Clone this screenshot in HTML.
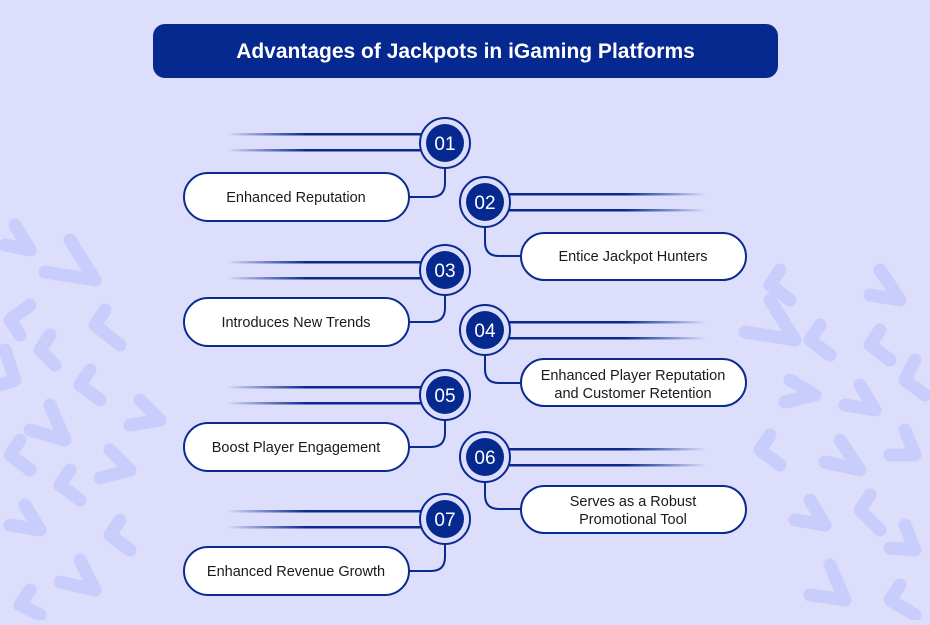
<!DOCTYPE html>
<html><head><meta charset="utf-8"><style>
html,body{margin:0;padding:0}
body{width:930px;height:620px;overflow:hidden;background:#dcdefc;font-family:"Liberation Sans",sans-serif}
</style></head><body>
<svg width="930" height="620" viewBox="0 0 930 620" xmlns="http://www.w3.org/2000/svg">
<defs>
<linearGradient id="gl" x1="0" x2="1" y1="0" y2="0"><stop offset="0" stop-color="#0a2a8f" stop-opacity="0"/><stop offset="0.4" stop-color="#0a2a8f" stop-opacity="1"/></linearGradient>
<linearGradient id="gr" x1="1" x2="0" y1="0" y2="0"><stop offset="0" stop-color="#0a2a8f" stop-opacity="0"/><stop offset="0.4" stop-color="#0a2a8f" stop-opacity="1"/></linearGradient>
</defs>
<rect width="930" height="620" fill="#dcdefc"/>
<g fill="none" stroke="#c8cdfb" stroke-linecap="round" stroke-linejoin="round">
<g stroke-width="13">
<polyline points="15,225 30,250 5,245"/>
<polyline points="70,240 95,280 45,272"/>
<polyline points="30,305 10,320 20,335"/>
<polyline points="105,310 95,325 120,345"/>
<polyline points="50,335 40,350 55,365"/>
<polyline points="5,350 15,380 0,385"/>
<polyline points="50,405 65,440 30,430"/>
<polyline points="90,370 80,385 100,400"/>
<polyline points="140,400 160,420 130,425"/>
<polyline points="20,440 10,455 30,470"/>
<polyline points="110,450 130,470 100,478"/>
<polyline points="70,470 60,485 80,500"/>
<polyline points="25,505 40,530 10,525"/>
<polyline points="120,520 110,535 130,550"/>
<polyline points="80,560 95,590 60,582"/>
<polyline points="30,590 20,605 40,615"/>
<polyline points="770,300 795,340 745,332"/>
<polyline points="820,325 810,340 830,355"/>
<polyline points="880,330 870,345 890,360"/>
<polyline points="790,380 815,395 785,402"/>
<polyline points="860,385 875,410 845,405"/>
<polyline points="915,360 905,380 925,395"/>
<polyline points="770,435 760,450 780,465"/>
<polyline points="840,440 860,470 825,462"/>
<polyline points="905,430 915,455 890,455"/>
<polyline points="810,500 825,525 795,520"/>
<polyline points="870,495 860,510 880,530"/>
<polyline points="905,525 915,550 890,548"/>
<polyline points="830,565 845,600 810,595"/>
<polyline points="900,585 890,600 915,615"/>
<polyline points="880,270 900,300 870,295"/>
<polyline points="780,270 770,285 790,300"/>
</g>
</g>
<rect x="153" y="24" width="625" height="54" rx="12" fill="#06298f"/>
<text x="465.5" y="58" text-anchor="middle" fill="#fff" font-size="21" font-weight="bold">Advantages of Jackpots in iGaming Platforms</text>

<g fill="url(#gl)">
<rect x="226" y="133" width="200" height="2.5"/><rect x="226" y="149" width="200" height="2.5"/>
<rect x="226" y="261" width="200" height="2.5"/><rect x="226" y="277" width="200" height="2.5"/>
<rect x="226" y="386" width="200" height="2.5"/><rect x="226" y="402" width="200" height="2.5"/>
<rect x="226" y="510" width="200" height="2.5"/><rect x="226" y="526" width="200" height="2.5"/>
</g>
<g fill="url(#gr)">
<rect x="504" y="193" width="202" height="2.5"/><rect x="504" y="209" width="202" height="2.5"/>
<rect x="504" y="321" width="202" height="2.5"/><rect x="504" y="337" width="202" height="2.5"/>
<rect x="504" y="448" width="202" height="2.5"/><rect x="504" y="464" width="202" height="2.5"/>
</g>
<g stroke-width="2" fill="none" stroke="#0a2a8f">
<path d="M445 168 V183 Q445 197 431 197 H409"/>
<path d="M445 295 V308 Q445 322 431 322 H409"/>
<path d="M445 420 V433 Q445 447 431 447 H409"/>
<path d="M445 544 V557 Q445 571 431 571 H409"/>
<path d="M485 227 V242 Q485 256 499 256 H521"/>
<path d="M485 355 V369 Q485 383 499 383 H521"/>
<path d="M485 482 V495 Q485 509 499 509 H521"/>
</g>

<g stroke="#0a2a8f" stroke-width="2" fill="#fff">
<rect x="184" y="173" width="225" height="48" rx="24"/>
<rect x="184" y="298" width="225" height="48" rx="24"/>
<rect x="184" y="423" width="225" height="48" rx="24"/>
<rect x="184" y="547" width="225" height="48" rx="24"/>
<rect x="521" y="233" width="225" height="47" rx="23.5"/>
<rect x="521" y="359" width="225" height="47" rx="23.5"/>
<rect x="521" y="486" width="225" height="47" rx="23.5"/>
</g>

<g>
<g stroke="#0a2a8f" stroke-width="2" fill="#dcdefc">
<circle cx="445" cy="143" r="25"/><circle cx="445" cy="270" r="25"/><circle cx="445" cy="395" r="25"/><circle cx="445" cy="519" r="25"/>
<circle cx="485" cy="202" r="25"/><circle cx="485" cy="330" r="25"/><circle cx="485" cy="457" r="25"/>
</g>
<g fill="#06298f">
<circle cx="445" cy="143" r="19"/><circle cx="445" cy="270" r="19"/><circle cx="445" cy="395" r="19"/><circle cx="445" cy="519" r="19"/>
<circle cx="485" cy="202" r="19"/><circle cx="485" cy="330" r="19"/><circle cx="485" cy="457" r="19"/>
</g>
<g fill="#fff" font-size="19" text-anchor="middle">
<text x="445" y="150">01</text><text x="485" y="209">02</text><text x="445" y="277">03</text><text x="485" y="337">04</text>
<text x="445" y="402">05</text><text x="485" y="464">06</text><text x="445" y="526">07</text>
</g>
</g>

<g fill="#1a1a1a" font-size="14.5" text-anchor="middle">
<text x="296" y="202">Enhanced Reputation</text>
<text x="296" y="327">Introduces New Trends</text>
<text x="296" y="452">Boost Player Engagement</text>
<text x="296" y="576">Enhanced Revenue Growth</text>
<text x="633" y="261">Entice Jackpot Hunters</text>
<text x="633" y="380">Enhanced Player Reputation</text>
<text x="633" y="398">and Customer Retention</text>
<text x="633" y="506">Serves as a Robust</text>
<text x="633" y="524">Promotional Tool</text>
</g>
</svg>
</body></html>
